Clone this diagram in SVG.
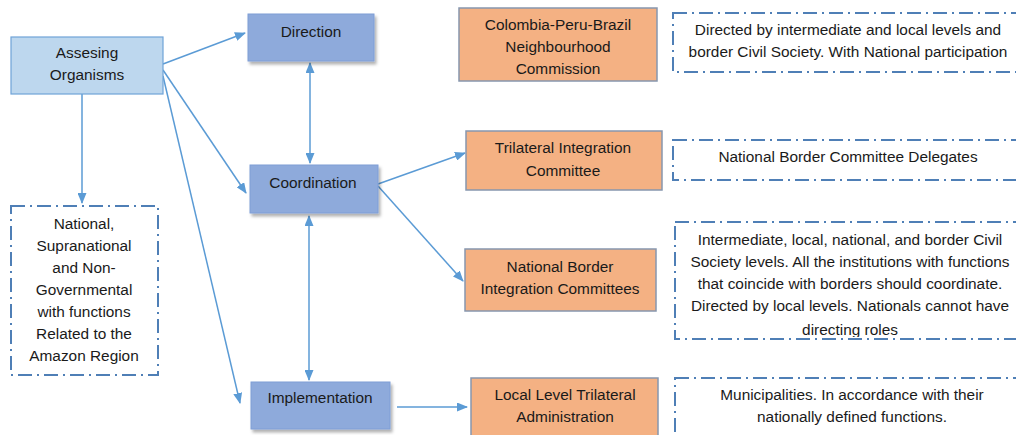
<svg xmlns="http://www.w3.org/2000/svg" width="1016" height="435" viewBox="0 0 1016 435">
<style>
  text { font-family: "Liberation Sans", Arial, sans-serif; font-size: 15.4px; fill: #1a1a1a; text-anchor: middle; }
  .blue { fill: #8EAADB; stroke: #7f9ed6; stroke-width: 1; }
  .light { fill: #BDD7EE; stroke: #6FA3D8; stroke-width: 1.2; }
  .orange { fill: #F4B183; stroke: #8797AE; stroke-width: 1.5; }
  .dash { fill: none; stroke: #4f7fb6; stroke-width: 2; stroke-dasharray: 14 5 2 5; }
  .conn { fill: none; stroke: #5B9BD5; stroke-width: 1.5; }
</style>
<defs>
  <marker id="arr" markerUnits="userSpaceOnUse" markerWidth="11" markerHeight="9" refX="10" refY="4.5" orient="auto-start-reverse">
    <path d="M0,0 L11,4.5 L0,9 z" fill="#5B9BD5"/>
  </marker>
  <filter id="sh" x="-10%" y="-10%" width="130%" height="140%">
    <feDropShadow dx="2" dy="3" stdDeviation="1.5" flood-color="#000" flood-opacity="0.3"/>
  </filter>
  <clipPath id="clip3"><rect x="660" y="215" width="360" height="122"/></clipPath>
</defs>
<rect width="1016" height="435" fill="#ffffff"/>

<g id="connectors">
  <line class="conn" x1="163" y1="64" x2="245" y2="33" marker-end="url(#arr)"/>
  <line class="conn" x1="163" y1="70" x2="246" y2="193" marker-end="url(#arr)"/>
  <line class="conn" x1="163" y1="76" x2="240" y2="403" marker-end="url(#arr)"/>
  <line class="conn" x1="82" y1="94" x2="82" y2="203" marker-end="url(#arr)"/>
  <line class="conn" x1="310" y1="63" x2="310" y2="163" marker-start="url(#arr)" marker-end="url(#arr)"/>
  <line class="conn" x1="309" y1="216" x2="309" y2="380" marker-start="url(#arr)" marker-end="url(#arr)"/>
  <line class="conn" x1="378" y1="184" x2="465" y2="153" marker-end="url(#arr)"/>
  <line class="conn" x1="378" y1="186" x2="463" y2="281" marker-end="url(#arr)"/>
  <line class="conn" x1="397" y1="407" x2="467" y2="407" marker-end="url(#arr)"/>
</g>

<g id="assesing">
  <rect class="light" x="11" y="37" width="152" height="57"/>
  <text x="87" y="58">Assesing</text>
  <text x="87" y="80">Organisms</text>
</g>

<g id="direction">
  <rect class="blue" x="248" y="14" width="126" height="47" filter="url(#sh)"/>
  <text x="311" y="37">Direction</text>
</g>

<g id="coordination">
  <rect class="blue" x="250" y="165" width="128" height="48" filter="url(#sh)"/>
  <text x="313" y="188">Coordination</text>
</g>

<g id="implementation">
  <rect class="blue" x="251" y="382" width="139" height="47" filter="url(#sh)"/>
  <text x="320" y="403">Implementation</text>
</g>

<g id="national-left">
  <rect class="dash" x="11" y="206" width="147" height="169"/>
  <text x="84" y="229">National,</text>
  <text x="84" y="251">Supranational</text>
  <text x="84" y="273">and Non-</text>
  <text x="84" y="295">Governmental</text>
  <text x="84" y="317">with functions</text>
  <text x="84" y="339">Related to the</text>
  <text x="84" y="361">Amazon Region</text>
</g>

<g id="colombia">
  <rect class="orange" x="459" y="8" width="198" height="73"/>
  <text x="558" y="30">Colombia-Peru-Brazil</text>
  <text x="558" y="52">Neighbourhood</text>
  <text x="558" y="74">Commission</text>
</g>

<g id="trilateral">
  <rect class="orange" x="466" y="131" width="196" height="59"/>
  <text x="563" y="153">Trilateral Integration</text>
  <text x="563" y="176">Committee</text>
</g>

<g id="national-border">
  <rect class="orange" x="465" y="249" width="191" height="62"/>
  <text x="560" y="272">National Border</text>
  <text x="560" y="294">Integration Committees</text>
</g>

<g id="local-level">
  <rect class="orange" x="471" y="378" width="187" height="70"/>
  <text x="565" y="400">Local Level Trilateral</text>
  <text x="565" y="422">Administration</text>
</g>

<g id="desc-1">
  <rect class="dash" x="673" y="13" width="360" height="59"/>
  <text x="848" y="35">Directed by intermediate and local levels and</text>
  <text x="848" y="57">border Civil Society. With National participation</text>
</g>

<g id="desc-2">
  <rect class="dash" x="673" y="140" width="360" height="40"/>
  <text x="848" y="162">National Border Committee Delegates</text>
</g>

<g id="desc-3">
  <text x="850" y="245">Intermediate, local, national, and border Civil</text>
  <text x="850" y="267">Society levels. All the institutions with functions</text>
  <text x="850" y="289">that coincide with borders should coordinate.</text>
  <text x="850" y="311">Directed by local levels. Nationals cannot have</text>
  <text x="850" y="335" clip-path="url(#clip3)">directing roles</text>
  <rect class="dash" x="675" y="222" width="360" height="117"/>
</g>

<g id="desc-4">
  <rect class="dash" x="675" y="378" width="360" height="70"/>
  <text x="852" y="400">Municipalities. In accordance with their</text>
  <text x="852" y="422">nationally defined functions.</text>
</g>
</svg>
